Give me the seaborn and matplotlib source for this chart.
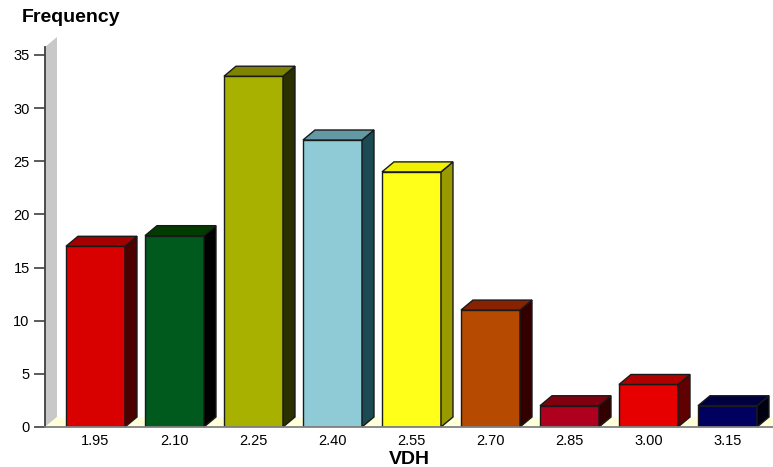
import matplotlib
matplotlib.use("Agg")
import matplotlib.pyplot as plt
from matplotlib.patches import Polygon
import seaborn as sns
import pandas as pd

# Histogram of VDH values
vdh_bins = ["1.95", "2.10", "2.25", "2.40", "2.55", "2.70", "2.85", "3.00", "3.15"]
frequency = [17, 18, 33, 27, 24, 11, 2, 4, 2]

front_colors = ["#D90000", "#005A1E", "#A8B000", "#8FCBD6", "#FFFF1A",
                "#B54A00", "#B00020", "#E60000", "#00005F"]
top_colors = ["#A50000", "#003C00", "#7F8400", "#6399A4", "#F0F000",
              "#882200", "#800010", "#B00000", "#000040"]
side_colors = ["#4D0000", "#000000", "#2B3000", "#1C4A52", "#999900",
               "#330000", "#330000", "#600000", "#000010"]

y_ticks = [0, 5, 10, 15, 20, 25, 30, 35]

sns.set_theme(style="white")
plt.rcParams["font.family"] = ["Liberation Sans", "DejaVu Sans"]
plt.rcParams["text.color"] = "black"

W, H = 773, 467
fig = plt.figure(figsize=(W / 100, H / 100), dpi=100)
ax = fig.add_axes([45 / W, (H - 427) / H, 728 / W, (427 - 37) / H])

df = pd.DataFrame({"VDH": vdh_bins, "Frequency": frequency})
sns.barplot(data=df, x="VDH", y="Frequency", hue="VDH", palette=front_colors,
            legend=False, width=0.747, saturation=1, edgecolor="#1a1a1a",
            linewidth=1.0, ax=ax, zorder=3)

x_lo, x_hi = -0.639, 8.576
y_lo, y_hi = 0, 36.69
ax.set_xlim(x_lo, x_hi)
ax.set_ylim(y_lo, y_hi)

# depth offsets of the 3D extrusion, in data units
dx = 12 / 79
dy = 10 / 10.629
wall_top = 35.75

# back wall and floor
ax.add_patch(Polygon([(x_lo, 0), (x_lo, wall_top), (x_lo + dx, wall_top + dy),
                      (x_lo + dx, dy)], closed=True, facecolor="#C8C8C8",
                     edgecolor="none", zorder=1, clip_on=False))
ax.add_patch(Polygon([(x_lo, 0), (x_hi + 1, 0), (x_hi + 1, dy), (x_lo + dx, dy)],
                     closed=True, facecolor="#FFFFDA", edgecolor="none",
                     zorder=1))

# top and side faces of each bar
for i, bar in enumerate(list(ax.patches)[:len(frequency)]):
    x0 = bar.get_x()
    w = bar.get_width()
    h = bar.get_height()
    x1 = x0 + w
    top = Polygon([(x0, h), (x1, h), (x1 + dx, h + dy), (x0 + dx, h + dy)],
                  closed=True, facecolor=top_colors[i], edgecolor="#1a1a1a",
                  linewidth=1.0, zorder=3, clip_on=False)
    side = Polygon([(x1, 0), (x1 + dx, dy), (x1 + dx, h + dy), (x1, h)],
                   closed=True, facecolor=side_colors[i], edgecolor="#1a1a1a",
                   linewidth=1.0, zorder=3, clip_on=False)
    ax.add_patch(side)
    ax.add_patch(top)

ax.set_yticks(y_ticks)
ax.set_yticklabels([str(t) for t in y_ticks])
ax.tick_params(axis="y", length=8, width=1.2, color="#404040", pad=3,
               labelsize=10.5, labelcolor="black", left=True)
ax.tick_params(axis="x", length=0, pad=5, labelsize=10.5, labelcolor="black")
ax.set_xlabel("")
ax.set_ylabel("")

for s in ["top", "right"]:
    ax.spines[s].set_visible(False)
ax.spines["left"].set_color("#404040")
ax.spines["left"].set_linewidth(1.3)
ax.spines["left"].set_bounds(0, wall_top)
ax.spines["bottom"].set_color("#808080")
ax.spines["bottom"].set_linewidth(1.3)
ax.spines["left"].set_zorder(4)
ax.spines["bottom"].set_zorder(4)

fig.text(22 / W, 1 - 18 / H, "Frequency", fontsize=14, fontweight="bold",
         color="black", ha="left", va="center")
fig.text(409 / W, 1 - 459 / H, "VDH", fontsize=14, fontweight="bold",
         color="black", ha="center", va="center")

fig.savefig("out.png", dpi=100)
